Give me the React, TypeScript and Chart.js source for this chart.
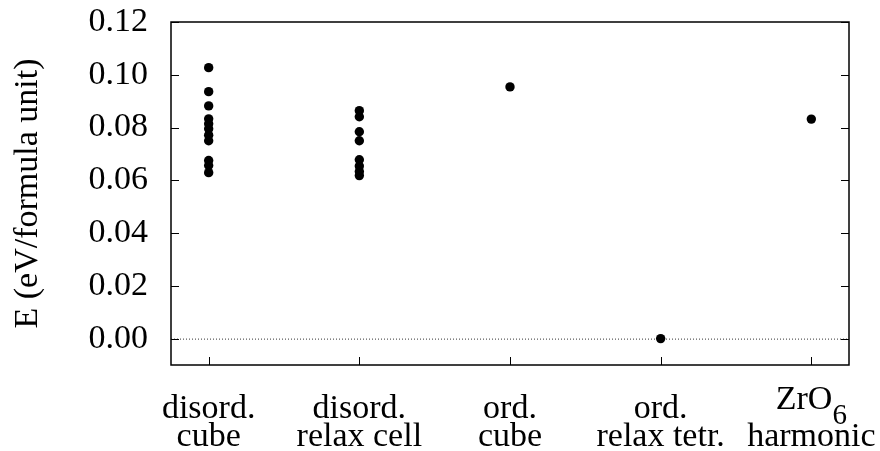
import React, { useEffect, useRef } from "react";
import { Chart, registerables } from "chart.js";

Chart.register(...registerables);

// Category labels (two lines each; "_" marks a subscript)
const categories: string[][] = [
  ["disord.", "cube"],
  ["disord.", "relax cell"],
  ["ord.", "cube"],
  ["ord.", "relax tetr."],
  ["ZrO_6", "harmonic"],
];

// Energies in eV per formula unit
const disordCube = [0.1027, 0.0936, 0.0882, 0.0833, 0.0814, 0.0795, 0.0771, 0.075, 0.0675, 0.0656, 0.0629];
const disordRelaxCell = [0.0864, 0.0841, 0.0784, 0.075, 0.0678, 0.0654, 0.0633, 0.0618];
const ordCube = [0.0954];
const ordRelaxTetr = [0.0];
const zro6Harmonic = [0.0832];

const yTicks = [0, 0.02, 0.04, 0.06, 0.08, 0.1, 0.12];

const FONT = "'Liberation Serif', 'Times New Roman', serif";
const SIZE = 34;

const seriesByCategory = [disordCube, disordRelaxCell, ordCube, ordRelaxTetr, zro6Harmonic];

const framePlugin = {
  id: "frame",
  beforeDatasetsDraw(chart: any) {
    const { ctx, chartArea: a, scales } = chart;
    const y0 = scales.y.getPixelForValue(0);
    ctx.save();
    ctx.strokeStyle = "#333";
    ctx.lineWidth = 1;
    ctx.setLineDash([1, 2]);
    ctx.beginPath();
    ctx.moveTo(a.left, y0 + 0.5);
    ctx.lineTo(a.right, y0 + 0.5);
    ctx.stroke();
    ctx.restore();
  },
  afterDraw(chart: any) {
    const { ctx, chartArea: a, scales } = chart;
    ctx.save();
    // inward tick marks
    ctx.strokeStyle = "#000";
    ctx.lineWidth = 1;
    const tl = 8;
    ctx.beginPath();
    yTicks.forEach((v) => {
      const py = Math.round(scales.y.getPixelForValue(v)) + 0.5;
      ctx.moveTo(a.left, py);
      ctx.lineTo(a.left + tl, py);
      ctx.moveTo(a.right, py);
      ctx.lineTo(a.right - tl, py);
    });
    categories.forEach((_, i) => {
      const px = Math.round(scales.x.getPixelForValue(i)) + 0.5;
      ctx.moveTo(px, a.bottom);
      ctx.lineTo(px, a.bottom - tl);
    });
    ctx.stroke();
    // border
    ctx.lineWidth = 1.5;
    ctx.strokeRect(a.left, a.top, a.right - a.left, a.bottom - a.top);

    // category labels
    ctx.fillStyle = "#000";
    ctx.textBaseline = "alphabetic";
    categories.forEach((lines, i) => {
      const cx = scales.x.getPixelForValue(i);
      lines.forEach((line, li) => {
        const base = li === 0 ? 418 : 446;
        if (line.includes("_")) {
          const [main, sub] = line.split("_");
          const subSize = 29;
          ctx.font = `${SIZE}px ${FONT}`;
          const w1 = ctx.measureText(main).width;
          ctx.font = `${subSize}px ${FONT}`;
          const w2 = ctx.measureText(sub).width;
          const start = cx - (w1 + w2) / 2;
          ctx.textAlign = "left";
          ctx.font = `${SIZE}px ${FONT}`;
          ctx.fillText(main, start, base - 9);
          ctx.font = `${subSize}px ${FONT}`;
          ctx.fillText(sub, start + w1, base + 6);
        } else {
          ctx.font = `${SIZE}px ${FONT}`;
          ctx.textAlign = "center";
          ctx.fillText(line, cx, base);
        }
      });
    });
    ctx.restore();
  },
};

export default function App() {
  const ref = useRef<HTMLCanvasElement | null>(null);

  useEffect(() => {
    document.body.style.margin = "0";
    const points: { x: number; y: number }[] = [];
    seriesByCategory.forEach((vals, i) => vals.forEach((v) => points.push({ x: i, y: v })));

    const chart = new Chart(ref.current!, {
      type: "scatter",
      data: {
        datasets: [
          {
            data: points,
            backgroundColor: "#000",
            borderColor: "#000",
            pointRadius: 4.7,
            pointHoverRadius: 4.7,
            borderWidth: 0,
          },
        ],
      },
      options: {
        responsive: false,
        animation: false,
        layout: { padding: { top: 22, right: 31, left: 0, bottom: 0 } },
        plugins: { legend: { display: false }, tooltip: { enabled: false } },
        scales: {
          x: {
            type: "linear",
            min: -0.25,
            max: 4.25,
            grid: { display: false },
            border: { display: false },
            ticks: { display: false },
            afterFit: (s: any) => {
              s.height = 86;
              s.paddingLeft = 0;
              s.paddingRight = 0;
            },
          },
          y: {
            type: "linear",
            min: -0.01,
            max: 0.12,
            grid: { display: false, drawTicks: false },
            border: { display: false },
            afterBuildTicks: (s: any) => {
              s.ticks = yTicks.map((v) => ({ value: v }));
            },
            ticks: {
              color: "#000",
              padding: 23,
              font: { family: FONT, size: SIZE },
              callback: (v: any) => Number(v).toFixed(2),
            },
            title: {
              display: true,
              text: "E (eV/formula unit)",
              color: "#000",
              font: { family: FONT, size: SIZE, lineHeight: 1 },
              padding: { top: 11, bottom: 0 },
            },
            afterFit: (s: any) => {
              s.width = 171;
              s.paddingTop = 0;
              s.paddingBottom = 0;
            },
          },
        },
      },
      plugins: [framePlugin],
    });
    return () => chart.destroy();
  }, []);

  return <canvas ref={ref} width={880} height={451} style={{ display: "block" }} />;
}
